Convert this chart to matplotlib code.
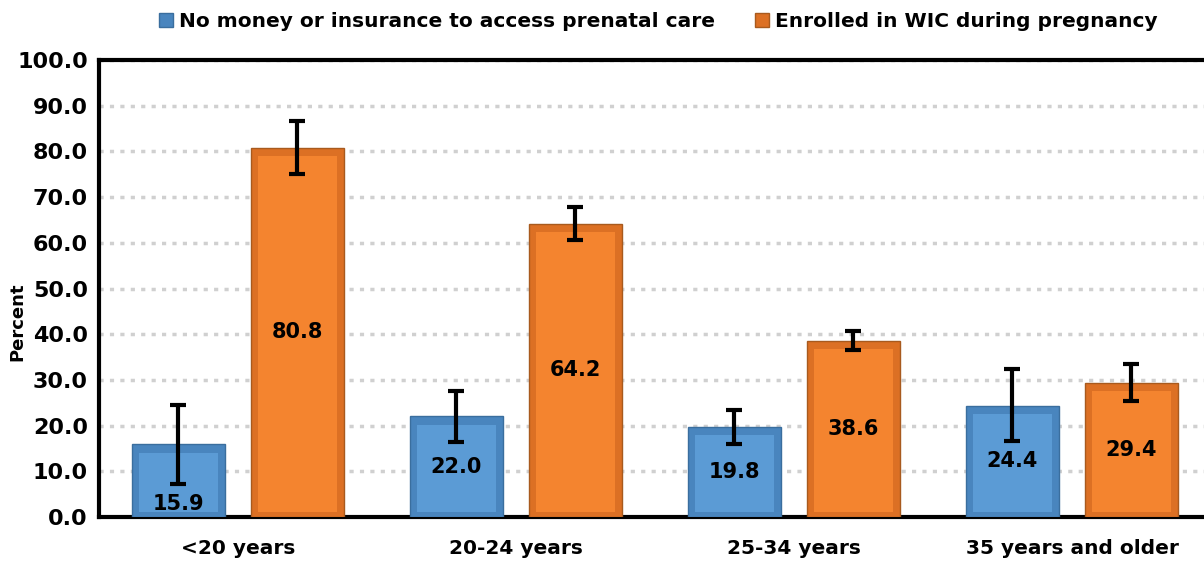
import numpy as np
import matplotlib.pyplot as plt

plt.rcParams['font.family'] = ['DejaVu Sans']
plt.rcParams['font.weight'] = 'bold'

categories = ["<20 years", "20-24 years", "25-34 years", "35 years and older"]
series_names = ["No money or insurance to access prenatal care",
                "Enrolled in WIC during pregnancy"]
no_money = [15.9, 22.0, 19.8, 24.4]
no_money_lo = [7.2, 16.4, 16.0, 16.6]
no_money_hi = [24.5, 27.6, 23.4, 32.4]
wic = [80.8, 64.2, 38.6, 29.4]
wic_lo = [75.1, 60.6, 36.5, 25.4]
wic_hi = [86.7, 67.8, 40.7, 33.5]
yticks = np.arange(0, 101, 10)

fig = plt.figure(figsize=(12.04, 5.61), dpi=100)
ax = fig.add_axes([0.0822, 0.0784, 0.9236, 0.8146])

x = np.arange(len(categories))
w = 0.335
off = 0.214

outer = ["#4985BE", "#DC7024"]
inner = ["#5B9BD5", "#F4842F"]
edges = ["#3A6E9E", "#A85A1E"]
for i, (vals, lo, hi) in enumerate([(no_money, no_money_lo, no_money_hi),
                                     (wic, wic_lo, wic_hi)]):
    pos = x + (-off if i == 0 else off)
    vals = np.array(vals)
    ax.bar(pos, vals, w, color=outer[i], edgecolor=edges[i], linewidth=1.0,
           label=series_names[i], zorder=3)
    # lighter inner face for a bevel look
    ax.bar(pos, vals - 2.8, w * 0.84, bottom=1.0, color=inner[i],
           edgecolor='none', zorder=3.5)
    err = [vals - np.array(lo), np.array(hi) - vals]
    ax.errorbar(pos, vals, yerr=err, fmt='none', ecolor='black', elinewidth=3,
                capsize=6, capthick=3, zorder=5)
    for p, v, l in zip(pos, vals, lo):
        if v / 2 + 3.5 > l:
            ax.text(p, 0.6, f"{v:.1f}", ha='center', va='bottom', fontsize=15,
                    fontweight='bold', zorder=6)
        else:
            ax.text(p, v / 2, f"{v:.1f}", ha='center', va='center', fontsize=15,
                    fontweight='bold', zorder=6)

ax.set_xlim(-0.5, 3.5)
ax.set_ylim(0, 100)
ax.set_yticks(yticks)
ax.set_yticklabels([f"{t:.1f}" for t in yticks], fontsize=16, fontweight='bold')
ax.set_xticks(x)
ax.set_xticklabels(categories, fontsize=14.5, fontweight='bold')
ax.tick_params(axis='y', length=0, pad=8)
ax.tick_params(axis='x', length=0, pad=16)
fig.text(17 / 1204, 1 - 322 / 561, "Percent", rotation=90, ha='center', va='center',
         fontsize=13, fontweight='bold')

ax.grid(axis='y', color='#D0D0D0', linestyle=(0, (1.2, 1.8)), linewidth=2.5, zorder=0)
ax.set_axisbelow(True)
for s in ['left', 'bottom', 'top']:
    ax.spines[s].set_linewidth(3)
    ax.spines[s].set_color('black')
ax.spines['right'].set_visible(False)

ax.legend(loc='upper center', bbox_to_anchor=(0.503, 1.145), ncol=2,
          frameon=False, handlelength=0.7, handleheight=0.7,
          handletextpad=0.3, columnspacing=2.0,
          prop={'weight': 'bold', 'size': 14.5})

fig.savefig("out.png", dpi=100)
